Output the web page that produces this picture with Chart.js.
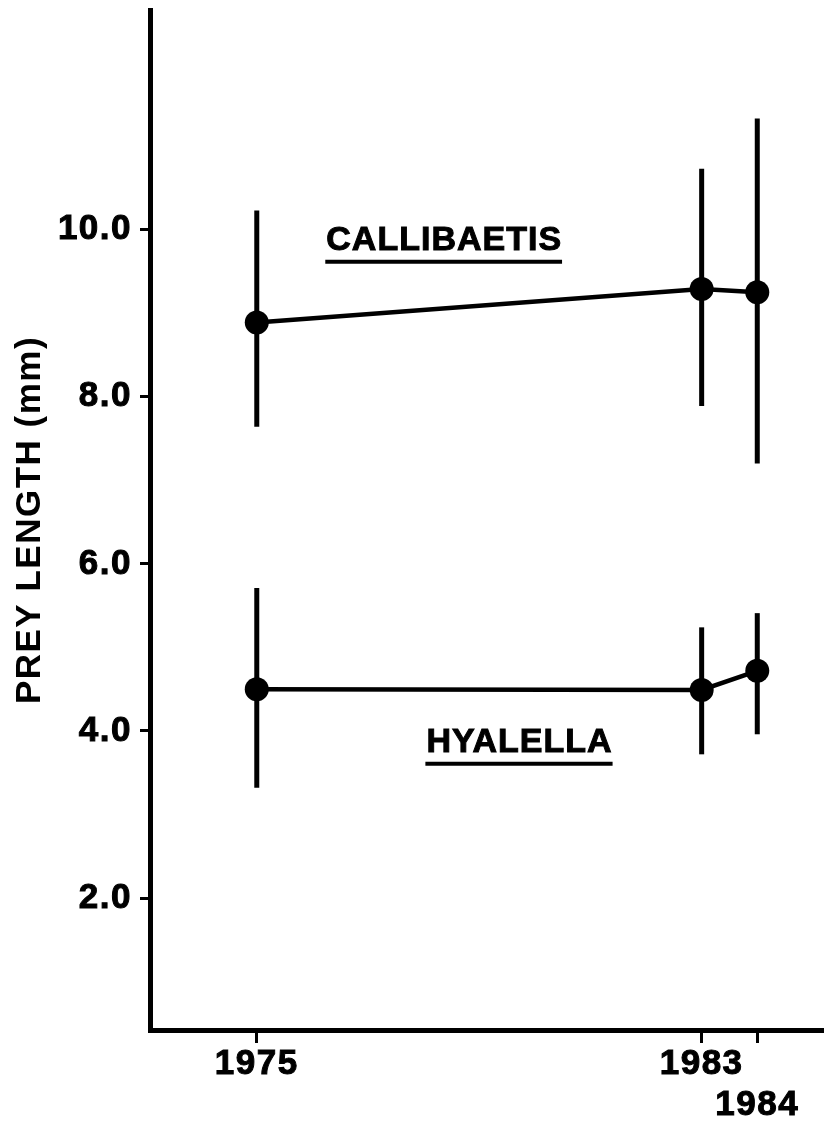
<!DOCTYPE html>
<html>
<head>
<meta charset="utf-8">
<script src="https://cdn.jsdelivr.net/npm/chart.js@4.4.1/dist/chart.umd.min.js"></script>
<style>
  html, body { margin: 0; padding: 0; background: #ffffff; }
  #wrap { width: 824px; height: 1125px; position: relative; }
</style>
</head>
<body>
<div id="wrap"><canvas id="c" width="824" height="1125"></canvas></div>
<script>
// ---- data ----
const years = [1975, 1983, 1984];
const xTickLabels = ['1975', '1983', '1984'];
const yTickValues = [2, 4, 6, 8, 10];

const callibaetisMean = [8.89, 9.29, 9.25];
const callibaetisLow  = [7.64, 7.89, 7.20];
const callibaetisHigh = [10.23, 10.73, 11.33];

const hyalellaMean = [4.50, 4.49, 4.72];
const hyalellaLow  = [3.32, 3.72, 3.96];
const hyalellaHigh = [5.71, 5.24, 5.41];

const seriesNames = ['CALLIBAETIS', 'HYALELLA'];
const yTitle = 'PREY LENGTH (mm)';

// ---- styling / layout ----
const FONT = '"Liberation Sans", Arial, Helvetica, sans-serif';
const INK = '#000000';
const labelPlacement = [
  { x: 1976.25, y: 9.76 },
  { x: 1978.05, y: 3.75 }
];

function buildPoints(xs, ys) { return xs.map((x, i) => ({ x: x, y: ys[i] })); }

const letterSpacingPlugin = {
  id: 'spacing',
  beforeDraw(chart) {
    chart.ctx.letterSpacing = '1.5px';
  }
};

const errorBarPlugin = {
  id: 'errbars',
  beforeDatasetsDraw(chart) {
    const ctx = chart.ctx;
    const xs = chart.scales.x, ys = chart.scales.y;
    ctx.save();
    ctx.strokeStyle = INK;
    ctx.lineWidth = 5;
    ctx.lineCap = 'butt';
    chart.data.datasets.forEach(ds => {
      ds.data.forEach((p, i) => {
        const px = xs.getPixelForValue(p.x);
        ctx.beginPath();
        ctx.moveTo(px, ys.getPixelForValue(ds.low[i]));
        ctx.lineTo(px, ys.getPixelForValue(ds.high[i]));
        ctx.stroke();
      });
    });
    ctx.restore();
  }
};

const seriesLabelPlugin = {
  id: 'serieslabels',
  afterDatasetsDraw(chart) {
    const ctx = chart.ctx;
    const xs = chart.scales.x, ys = chart.scales.y;
    ctx.save();
    ctx.fillStyle = INK;
    ctx.strokeStyle = INK;
    ctx.font = 'bold 34px ' + FONT;
    ctx.letterSpacing = '1px';
    ctx.textAlign = 'left';
    ctx.textBaseline = 'alphabetic';
    seriesNames.forEach((name, i) => {
      const pos = labelPlacement[i];
      const px = xs.getPixelForValue(pos.x);
      const py = ys.getPixelForValue(pos.y);
      ctx.lineWidth = 1;
      ctx.fillText(name, px, py);
      ctx.strokeText(name, px, py);
      const w = ctx.measureText(name).width - 1;
      ctx.lineWidth = 4;
      ctx.beginPath();
      ctx.moveTo(px - 1, py + 12);
      ctx.lineTo(px + w + 1, py + 12);
      ctx.stroke();
    });
    ctx.restore();
  }
};

new Chart(document.getElementById('c'), {
  type: 'scatter',
  data: {
    datasets: [
      {
        label: seriesNames[0],
        data: buildPoints(years, callibaetisMean),
        low: callibaetisLow, high: callibaetisHigh,
        showLine: true, borderColor: INK, backgroundColor: INK,
        borderWidth: 4.5, pointRadius: 12, pointBorderWidth: 0,
        pointBackgroundColor: INK, tension: 0
      },
      {
        label: seriesNames[1],
        data: buildPoints(years, hyalellaMean),
        low: hyalellaLow, high: hyalellaHigh,
        showLine: true, borderColor: INK, backgroundColor: INK,
        borderWidth: 4.5, pointRadius: 12, pointBorderWidth: 0,
        pointBackgroundColor: INK, tension: 0
      }
    ]
  },
  options: {
    responsive: false,
    animation: false,
    devicePixelRatio: 1,
    layout: { autoPadding: false, padding: { top: 10, right: 0, bottom: 0, left: 0 } },
    plugins: { legend: { display: false }, tooltip: { enabled: false } },
    scales: {
      x: {
        type: 'linear',
        min: 1973.08, max: 1985.2,
        afterBuildTicks(scale) { scale.ticks = years.map(v => ({ value: v })); },
        afterFit(scale) { scale.height = 95; scale.paddingLeft = 0; scale.paddingRight = 0; },
        border: { display: true, color: INK, width: 5 },
        grid: { display: true, drawOnChartArea: false, drawTicks: true, tickLength: 13, tickWidth: 3, tickColor: INK, color: INK },
        ticks: {
          color: INK, padding: 1, maxRotation: 0, autoSkip: false,
          textStrokeColor: INK, textStrokeWidth: 1,
          font: { family: FONT, size: 35, weight: 'bold', lineHeight: 1.16 },
          callback: (v) => {
            const i = years.indexOf(v);
            if (i < 0) return '';
            return i === 2 ? ['', xTickLabels[i]] : xTickLabels[i];
          }
        }
      },
      y: {
        type: 'linear',
        min: 0.42, max: 12.63,
        afterBuildTicks(scale) { scale.ticks = yTickValues.map(v => ({ value: v })); },
        afterFit(scale) { scale.width = 150; scale.paddingTop = 0; scale.paddingBottom = 0; },
        border: { display: true, color: INK, width: 5 },
        grid: { display: true, drawOnChartArea: false, drawTicks: true, tickLength: 10, tickWidth: 3, tickColor: INK, color: INK },
        ticks: {
          color: INK, padding: 8,
          textStrokeColor: INK, textStrokeWidth: 1,
          font: { family: FONT, size: 35, weight: 'bold' },
          callback: (v) => Number(v).toFixed(1)
        },
        title: {
          display: true, text: yTitle, color: INK,
          font: { family: FONT, size: 35, weight: 'bold', lineHeight: 1.2 },
          padding: { top: 9, bottom: 0 }
        }
      }
    }
  },
  plugins: [letterSpacingPlugin, errorBarPlugin, seriesLabelPlugin]
});
</script>
</body>
</html>
